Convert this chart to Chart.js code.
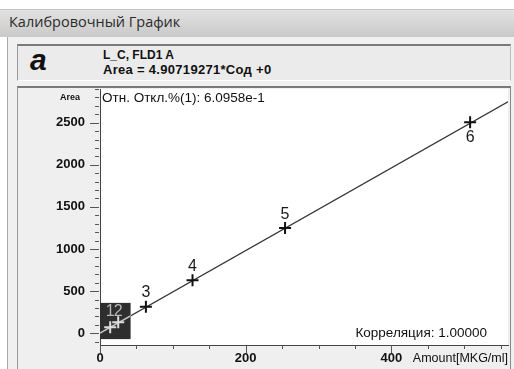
<!DOCTYPE html>
<html><head><meta charset="utf-8">
<script src="https://cdn.jsdelivr.net/npm/chart.js@4/dist/chart.umd.min.js"></script>
<style>
html,body{margin:0;padding:0;background:#fff;width:514px;height:369px;overflow:hidden;font-family:"Liberation Sans",Arial,sans-serif;}
#titlebar{position:absolute;left:0;top:9px;width:514px;height:28px;background:linear-gradient(#e2e2e2,#c9c9c9);border-top:1px solid #c4c4c4;box-sizing:border-box;}
#titlebar span{position:absolute;left:9px;top:2px;font:14.5px "Open Sans",sans-serif;color:#2b2b2b;}
#body{position:absolute;left:7px;top:37px;width:507px;height:332px;background:#f0f0f0;border-left:1px solid #a8a8a8;box-sizing:border-box;}
#header{position:absolute;left:17px;top:44px;width:494px;height:37px;background:#ebebeb;border-top:2px solid #7a7a7a;border-left:1px solid #999;border-bottom:1px solid #fff;border-right:1px solid #bbb;box-sizing:border-box;}
#hA{position:absolute;left:12px;top:-3px;font:bold italic 30px "Liberation Sans",Arial,sans-serif;color:#111;}
#h1{position:absolute;left:85px;top:2px;font:bold 12px "Liberation Sans",Arial,sans-serif;color:#111;}
#h2{position:absolute;left:85px;top:16px;font:bold 13px "Liberation Sans",Arial,sans-serif;letter-spacing:0.3px;color:#111;}
#panel{position:absolute;left:17px;top:86px;width:494px;height:283px;background:#efefef;border-top:2px solid #7a7a7a;border-left:1px solid #999;border-right:1px solid #888;box-sizing:border-box;}
#c{position:absolute;left:0;top:0;}
</style></head>
<body>
<div id="titlebar"><span>Калибровочный График</span></div>
<div id="body"></div>
<div id="header"><span id="hA">a</span><span id="h1">L_C, FLD1 A</span><span id="h2">Area = 4.90719271*Сод +0</span></div>
<div id="panel"><canvas id="c" width="492" height="281"></canvas></div>
<script>
// ---- data ----
const amounts = [14, 25, 63, 127, 254, 508];
const areas = [70, 130, 315, 630, 1248, 2505];
const pointLabels = ['1', '2', '3', '4', '5', '6'];
const slope = 4.90719271;
const intercept = 0;
const xTicks = [0, 200, 400];
const yTicks = [0, 500, 1000, 1500, 2000, 2500];
const xRange = [0, 560];
const yRange = [-140, 2900];
const xMinorStep = 50;
const yMinorStep = 100;
const zoomBoxX = [0, 42];
const zoomBoxY = [-70, 360];
const yAxisTitle = 'Area';
const xAxisTitle = 'Amount[MKG/ml]';
const devText = 'Отн. Откл.%(1): 6.0958e-1';
const corrText = 'Корреляция: 1.00000';

const FONT = '"Liberation Sans", Arial, sans-serif';
const inBox = (x, y) => x >= zoomBoxX[0] && x <= zoomBoxX[1] && y >= zoomBoxY[0] && y <= zoomBoxY[1];

function boxRect(chart) {
  const xs = chart.scales.x, ys = chart.scales.y;
  const l = xs.getPixelForValue(zoomBoxX[0]), r = xs.getPixelForValue(zoomBoxX[1]);
  const t = ys.getPixelForValue(zoomBoxY[1]), b = ys.getPixelForValue(zoomBoxY[0]);
  return {l, r, t, b};
}

const deco = {
  id: 'deco',
  beforeDraw(chart) {
    const {ctx, chartArea: a} = chart;
    ctx.save();
    ctx.fillStyle = '#ffffff';
    ctx.fillRect(a.left, a.top, a.right - a.left, a.bottom - a.top);
    ctx.restore();
  },
  beforeDatasetsDraw(chart) {
    const {ctx} = chart;
    const bx = boxRect(chart);
    ctx.save();
    ctx.fillStyle = '#2e2e2e';
    ctx.fillRect(bx.l, bx.t, bx.r - bx.l, bx.b - bx.t);
    ctx.restore();
  },
  afterDatasetDraw(chart, args) {
    if (args.index !== 1) return;
    const {ctx} = chart;
    const bx = boxRect(chart);
    const meta = chart.getDatasetMeta(1);
    ctx.save();
    ctx.beginPath();
    ctx.rect(bx.l, bx.t, bx.r - bx.l, bx.b - bx.t);
    ctx.clip();
    ctx.strokeStyle = '#c8c8c8';
    ctx.lineWidth = 1.5;
    ctx.beginPath();
    meta.data.forEach((p, i) => { if (i === 0) ctx.moveTo(p.x, p.y); else ctx.lineTo(p.x, p.y); });
    ctx.stroke();
    ctx.restore();
  },
  afterDatasetsDraw(chart) {
    const {ctx} = chart;
    const bx = boxRect(chart);
    const meta = chart.getDatasetMeta(0);
    ctx.save();
    ctx.font = '16px ' + FONT;
    ctx.textAlign = 'center';
    ctx.textBaseline = 'middle';
    meta.data.forEach((p, i) => {
      const last = i === meta.data.length - 1;
      let y;
      if (inBox(amounts[i], areas[i])) { ctx.fillStyle = '#b8b8b8'; y = bx.t + 9; }
      else { ctx.fillStyle = '#1a1a1a'; y = last ? p.y + 15 : p.y - 14; }
      ctx.fillText(pointLabels[i], p.x, y);
    });
    ctx.restore();
  },
  afterDraw(chart) {
    const {ctx, chartArea: a} = chart;
    const xs = chart.scales.x, ys = chart.scales.y;
    ctx.save();
    ctx.strokeStyle = '#555';
    ctx.lineWidth = 1;
    for (let v = Math.ceil(yRange[0] / yMinorStep) * yMinorStep; v <= yRange[1]; v += yMinorStep) {
      const y = Math.round(ys.getPixelForValue(v)) + 0.5;
      const major = yTicks.includes(v);
      ctx.beginPath();
      ctx.moveTo(a.left - (major ? 10 : 5), y);
      ctx.lineTo(a.left - 1, y);
      ctx.stroke();
    }
    for (let v = xRange[0]; v <= xRange[1]; v += xMinorStep) {
      const x = Math.round(xs.getPixelForValue(v)) + 0.5;
      const major = xTicks.includes(v);
      ctx.beginPath();
      ctx.moveTo(x, a.bottom);
      ctx.lineTo(x, a.bottom + (major ? 8 : 4));
      ctx.stroke();
    }
    ctx.fillStyle = '#111';
    ctx.textBaseline = 'middle';
    ctx.font = 'bold 9px ' + FONT;
    ctx.textAlign = 'center';
    ctx.fillText(yAxisTitle, a.left - 30, a.top + 9);
    ctx.font = '13.5px ' + FONT;
    ctx.textAlign = 'left';
    ctx.fillText(devText, a.left + 2, a.top + 9);
    ctx.textAlign = 'right';
    ctx.fillText(corrText, a.right - 21, a.bottom - 12);
    ctx.font = '12.5px ' + FONT;
    ctx.fillText(xAxisTitle, a.right, a.bottom + 14);
    ctx.restore();
  }
};

new Chart(document.getElementById('c'), {
  type: 'scatter',
  data: {
    datasets: [
      {
        label: 'points',
        data: amounts.map((x, i) => ({x, y: areas[i]})),
        showLine: false,
        pointStyle: 'cross',
        pointRadius: 6,
        pointBorderWidth: 2,
        pointBorderColor: amounts.map((x, i) => inBox(x, areas[i]) ? '#dddddd' : '#111111'),
        pointBackgroundColor: 'transparent'
      },
      {
        label: 'fit',
        data: xRange.map(x => ({x, y: slope * x + intercept})),
        showLine: true,
        borderColor: '#333',
        borderWidth: 1.4,
        pointRadius: 0,
        fill: false
      }
    ]
  },
  options: {
    responsive: false,
    animation: false,
    devicePixelRatio: 1,
    layout: {autoPadding: false, padding: {top: 1, right: 2, left: 0, bottom: 0}},
    plugins: {legend: {display: false}, tooltip: {enabled: false}},
    scales: {
      x: {
        type: 'linear',
        min: xRange[0], max: xRange[1],
        afterBuildTicks: s => { s.ticks = xTicks.map(v => ({value: v})); },
        afterFit: s => { s.height = 24; s.paddingLeft = 0; s.paddingRight = 0; },
        ticks: {font: {family: FONT, size: 13, weight: 'bold'}, color: '#111', padding: 6, maxRotation: 0, autoSkip: false, callback: v => String(v)},
        grid: {display: false, drawTicks: false},
        border: {display: true, color: '#444', width: 1}
      },
      y: {
        type: 'linear',
        min: yRange[0], max: yRange[1],
        afterBuildTicks: s => { s.ticks = yTicks.map(v => ({value: v})); },
        afterFit: s => { s.width = 82; s.paddingTop = 0; s.paddingBottom = 0; },
        ticks: {font: {family: FONT, size: 13, weight: 'bold'}, color: '#111', padding: 15, autoSkip: false, callback: v => String(v)},
        grid: {display: false, drawTicks: false},
        border: {display: true, color: '#444', width: 1}
      }
    }
  },
  plugins: [deco]
});
</script>
</body></html>
